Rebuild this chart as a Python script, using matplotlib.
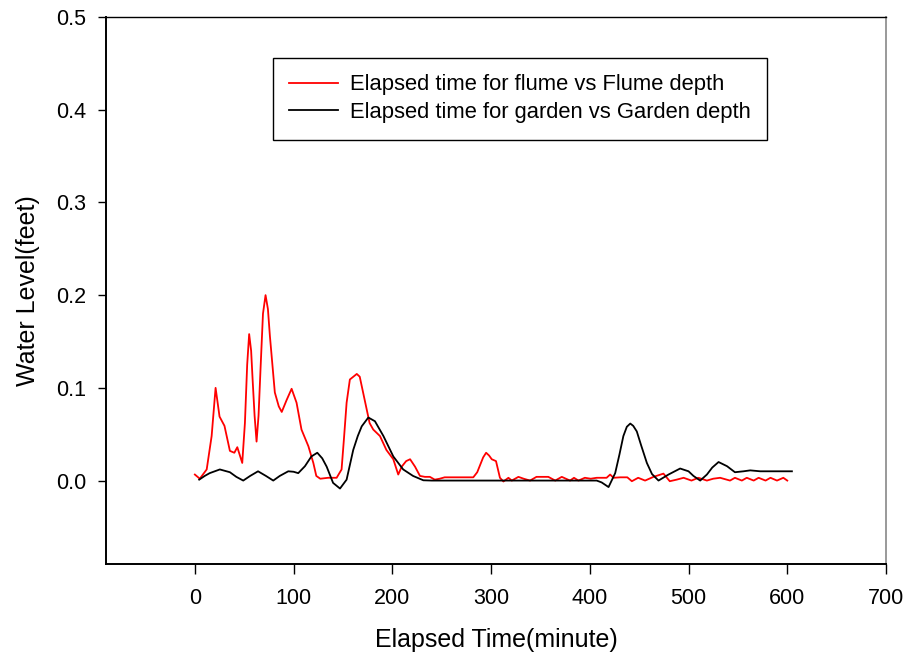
import matplotlib
matplotlib.use("Agg")
import matplotlib.pyplot as plt

plt.rcParams['font.family'] = ['Liberation Sans', 'DejaVu Sans']

# Flume depth (red)
flume_t = [0, 5, 12, 17, 21, 25, 30, 35.5, 40, 43, 48, 50.7, 53, 55, 57, 58.5, 60.5, 62.5,
           64.5, 66.5, 69, 71.6, 74, 76, 81, 85, 88, 93, 98, 103, 108, 115, 120, 123,
           127, 135, 143.6, 148.6, 151, 153.7, 157, 164, 167, 172, 177, 180.7, 187.5,
           194, 201, 206, 209.5, 214, 218, 223, 228, 233, 238, 243, 248, 253, 260, 270,
           282, 286, 289, 292, 295, 298, 300.7, 305, 309, 312.5, 317.6, 321, 327.7, 333,
           339.5, 346, 352, 358, 365, 371.6, 380, 384, 388.5, 395, 401, 407, 417, 420.6,
           424, 431, 438, 442.6, 449, 456, 464.5, 474.6, 481, 488, 495, 503, 510, 518.6,
           525, 532, 542, 547, 554, 559, 566, 571, 578, 583, 589.6, 596, 600]
flume_d = [0.0065, 0.002, 0.012, 0.048, 0.1, 0.069, 0.059, 0.032, 0.03, 0.036, 0.019,
           0.062, 0.125, 0.158, 0.14, 0.109, 0.07, 0.042, 0.07, 0.12, 0.18, 0.2, 0.185,
           0.156, 0.095, 0.08, 0.074, 0.087, 0.099, 0.084, 0.055, 0.037, 0.019, 0.005,
           0.002, 0.003, 0.003, 0.012, 0.045, 0.084, 0.109, 0.115, 0.112, 0.087, 0.062,
           0.055, 0.048, 0.033, 0.023, 0.0065, 0.015, 0.021, 0.023, 0.015, 0.005, 0.004,
           0.004, 0.001, 0.002, 0.0035, 0.0035, 0.0035, 0.0035, 0.009, 0.017, 0.025,
           0.030, 0.027, 0.023, 0.021, 0.003, -0.001, 0.003, 0.0, 0.004, 0.002, 0.0,
           0.004, 0.004, 0.004, 0.0, 0.004, 0.0, 0.003, 0.0, 0.003, 0.002, 0.003, 0.003,
           0.0065, 0.003, 0.0035, 0.0035, -0.0007, 0.003, 0.0, 0.004, 0.0075, -0.0007,
           0.001, 0.003, 0.0, 0.003, 0.0, 0.002, 0.003, 0.0, 0.003, 0.0, 0.003, 0.0,
           0.003, 0.0, 0.003, 0.0, 0.003, 0.0]

# Garden depth (black)
garden_t = [4.4, 10, 15, 25.3, 35.5, 42, 49, 56, 64, 72, 79.4, 86, 94.6, 100, 104.7,
            111.5, 118, 124, 129, 133.5, 140, 147, 153.7, 160.4, 165, 169, 175.7, 182.4,
            191, 201, 211, 221, 231.4, 240, 300, 397, 407, 412, 419, 425.7, 430, 434,
            437.5, 441, 444, 447.6, 452, 457.8, 463, 469.6, 479.7, 491.5, 500, 505,
            511.8, 518.6, 524, 530.4, 539, 547, 555.7, 562.5, 572.6, 604.7]
garden_d = [0.001, 0.005, 0.008, 0.012, 0.009, 0.004, 0.0, 0.005, 0.010, 0.005, 0.0,
            0.005, 0.010, 0.0095, 0.008, 0.0155, 0.026, 0.030, 0.024, 0.015, -0.0025,
            -0.0086, 0.001, 0.033, 0.048, 0.0585, 0.068, 0.064, 0.048, 0.026, 0.012,
            0.005, 0.0003, 0.0, 0.0, 0.0, 0.0, -0.002, -0.007, 0.008, 0.028, 0.048,
            0.058, 0.0615, 0.059, 0.053, 0.038, 0.019, 0.007, 0.0, 0.0065, 0.013, 0.010,
            0.005, 0.0, 0.0065, 0.014, 0.020, 0.0155, 0.009, 0.010, 0.011, 0.010, 0.010]

xticks = [0, 100, 200, 300, 400, 500, 600, 700]
yticks = [0.0, 0.1, 0.2, 0.3, 0.4, 0.5]

fig = plt.figure(figsize=(9.09, 6.63), dpi=100)
ax = fig.add_axes([0.1166, 0.1493, 0.8581, 0.8251])

ax.plot(flume_t, flume_d, color='red', lw=1.3, label='Elapsed time for flume vs Flume depth')
ax.plot(garden_t, garden_d, color='black', lw=1.3, label='Elapsed time for garden vs Garden depth')

ax.set_xlim(-90, 700)
ax.set_ylim(-0.09, 0.5)
ax.set_xticks(xticks)
ax.set_yticks(yticks)
ax.set_yticklabels([f"{v:.1f}" for v in yticks])
ax.tick_params(axis='x', direction='out', length=7, width=1, pad=10, labelsize=15.5)
ax.tick_params(axis='y', direction='out', length=6, width=1, pad=8, labelsize=15.5)

ax.spines['left'].set_linewidth(1.4)
ax.spines['bottom'].set_linewidth(1.4)
ax.spines['top'].set_linewidth(1.0)
ax.spines['right'].set_linewidth(1.4)
ax.spines['right'].set_color('#999999')

ax.set_xlabel('Elapsed Time(minute)', fontsize=18, labelpad=14)
ax.set_ylabel('Water Level(feet)', fontsize=18, labelpad=12)

leg = ax.legend(loc='upper left', bbox_to_anchor=(0.214, 0.925), borderaxespad=0,
                fontsize=15.8, handlelength=2.2, handletextpad=0.55, labelspacing=0.3,
                borderpad=0.75, fancybox=False, framealpha=1, edgecolor='black')
leg.get_frame().set_linewidth(1.0)

fig.savefig('out.png', dpi=100)
